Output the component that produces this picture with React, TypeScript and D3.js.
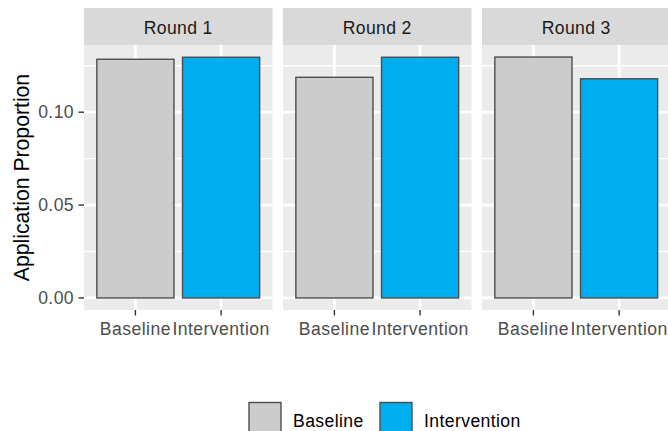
import React from "react";
import * as d3 from "d3";

const rounds = ["Round 1", "Round 2", "Round 3"];
const groups = ["Baseline", "Intervention"];
const baselineValues = [0.1285, 0.1188, 0.1297];
const interventionValues = [0.1296, 0.1296, 0.118];
const yTicks = [0, 0.05, 0.1];
const yMinorTicks = [0.025, 0.075, 0.125];
const groupColors = ["#CCCCCC", "#00ADEE"];

const W = 668;
const H = 431;
const FONT = "'Liberation Sans', Arial, sans-serif";

export default function App() {
  const panelLeft = 84;
  const panelW = 188.5;
  const gap = 10.5;
  const stripTop = 8;
  const stripBottom = 45;
  const panelBottom = 310;

  const maxV = d3.max([...baselineValues, ...interventionValues]) as number;
  const y = d3
    .scaleLinear()
    .domain([-0.05 * maxV, 1.05 * maxV])
    .range([panelBottom, stripBottom]);

  const values = [baselineValues, interventionValues];

  return (
    <svg
      width={W}
      height={H}
      style={{ position: "absolute", left: 0, top: 0, background: "#fff" }}
      fontFamily={FONT}
    >
      <rect x={0} y={0} width={W} height={H} fill="#fff" />
      {rounds.map((r, i) => {
        const x0 = panelLeft + i * (panelW + gap);
        const x = d3.scaleLinear().domain([0.4, 2.6]).range([x0, x0 + panelW]);
        const barW = x(0.9) - x(0);
        return (
          <g key={r}>
            <rect x={x0} y={stripTop} width={panelW} height={stripBottom - stripTop} fill="#D9D9D9" />
            <text
              x={x0 + panelW / 2}
              y={(stripTop + stripBottom) / 2 + 7}
              textAnchor="middle"
              fontSize={17.6}
              letterSpacing={0.35}
              fill="#1A1A1A"
            >
              {r}
            </text>
            <rect x={x0} y={stripBottom} width={panelW} height={panelBottom - stripBottom} fill="#EBEBEB" />
            {yMinorTicks.map((t) => (
              <line key={"mn" + t} x1={x0} x2={x0 + panelW} y1={y(t)} y2={y(t)} stroke="#fff" strokeWidth={1.4} />
            ))}
            {yTicks.map((t) => (
              <line key={"mj" + t} x1={x0} x2={x0 + panelW} y1={y(t)} y2={y(t)} stroke="#fff" strokeWidth={2.7} />
            ))}
            {groups.map((g, j) => (
              <line key={"vg" + g} x1={x(j + 1)} x2={x(j + 1)} y1={stripBottom} y2={panelBottom} stroke="#fff" strokeWidth={2.7} />
            ))}
            {groups.map((g, j) => (
              <rect
                key={"bar" + g}
                x={x(j + 1) - barW / 2}
                y={y(values[j][i])}
                width={barW}
                height={y(0) - y(values[j][i])}
                fill={groupColors[j]}
                stroke="#4D4D4D"
                strokeWidth={1.4}
              />
            ))}
            {groups.map((g, j) => (
              <g key={"xt" + g}>
                <line x1={x(j + 1)} x2={x(j + 1)} y1={panelBottom} y2={panelBottom + 5.5} stroke="#333333" strokeWidth={1.4} />
                <text x={x(j + 1)} y={335} textAnchor="middle" fontSize={17.6} letterSpacing={0.45} fill="#4D4D4D">
                  {g}
                </text>
              </g>
            ))}
          </g>
        );
      })}
      {yTicks.map((t) => (
        <g key={"yt" + t}>
          <line x1={panelLeft - 5.5} x2={panelLeft} y1={y(t)} y2={y(t)} stroke="#333333" strokeWidth={1.4} />
          <text x={panelLeft - 10} y={y(t) + 6} textAnchor="end" fontSize={17.6} letterSpacing={0.4} fill="#4D4D4D">
            {d3.format(".2f")(t)}
          </text>
        </g>
      ))}
      <text
        transform={`translate(29,${(stripBottom + panelBottom) / 2}) rotate(-90)`}
        textAnchor="middle"
        fontSize={21.2}
        fill="#000"
      >
        Application Proportion
      </text>
      {groups.map((g, j) => {
        const kx = [249, 380][j];
        return (
          <g key={"lg" + g}>
            <rect x={kx} y={402.5} width={32} height={33} fill={groupColors[j]} stroke="#4D4D4D" strokeWidth={1.4} />
            <text x={kx + 44} y={427} fontSize={17.6} letterSpacing={0.4} fill="#000">
              {g}
            </text>
          </g>
        );
      })}
    </svg>
  );
}
